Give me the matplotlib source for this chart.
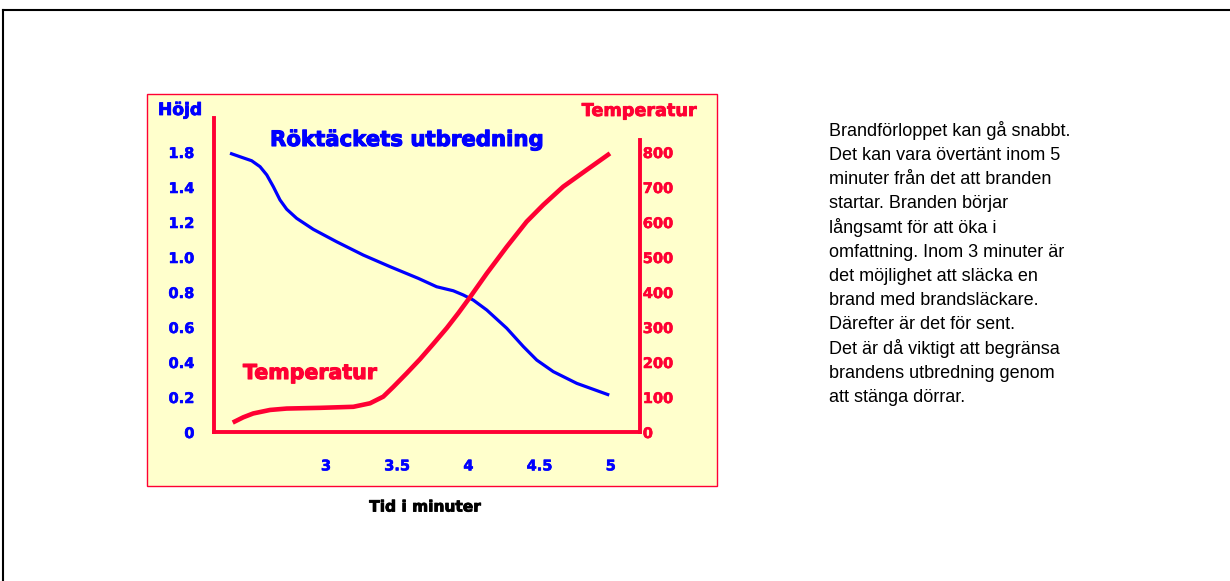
import matplotlib
matplotlib.use("Agg")
import matplotlib.pyplot as plt
import matplotlib.patheffects as pe
from matplotlib.patches import Rectangle
from matplotlib.lines import Line2D

# smoke layer height (m)
tid_rok = [2.326, 2.396, 2.478, 2.537, 2.584, 2.630, 2.677, 2.724, 2.794, 2.911,
           3.075, 3.262, 3.449, 3.648, 3.777, 3.894, 3.964, 4.034, 4.129, 4.269,
           4.386, 4.480, 4.596, 4.761, 4.989]
hojd = [1.593, 1.573, 1.550, 1.516, 1.469, 1.402, 1.326, 1.273, 1.221, 1.158,
        1.087, 1.011, 0.945, 0.878, 0.830, 0.807, 0.783, 0.754, 0.697, 0.593,
        0.488, 0.411, 0.345, 0.278, 0.211]

# temperature (C)
tid_temp = [2.345, 2.419, 2.489, 2.607, 2.724, 2.958, 3.192, 3.309, 3.402, 3.473,
            3.567, 3.660, 3.754, 3.848, 3.930, 4.011, 4.129, 4.269, 4.409, 4.526,
            4.666, 4.831, 4.994]
temp = [27, 42, 53, 63, 67, 69, 72, 82, 101, 129, 168, 208, 252, 297, 340, 385,
        453, 529, 601, 649, 701, 749, 796]

x_ticks = [3, 3.5, 4, 4.5, 5]
x_labels = ["3", "3.5", "4", "4.5", "5"]
y_ticks = [0, 0.2, 0.4, 0.6, 0.8, 1.0, 1.2, 1.4, 1.6]
y_labels = ["0", "0.2", "0.4", "0.6", "0.8", "1.0", "1.2", "1.4", "1.8"]
t_ticks = [0, 100, 200, 300, 400, 500, 600, 700, 800]

text_rader = ["Brandförloppet kan gå snabbt.",
              "Det kan vara övertänt inom 5",
              "minuter från det att branden",
              "startar. Branden börjar",
              "långsamt för att öka i",
              "omfattning. Inom 3 minuter är",
              "det möjlighet att släcka en",
              "brand med brandsläckare.",
              "Därefter är det för sent.",
              "Det är då viktigt att begränsa",
              "brandens utbredning genom",
              "att stänga dörrar."]

RED = "#ff0033"
BLUE = "#0000ff"
W, H = 1230, 581


def tjock(farg, lw=0.6):
    # fake a heavier (Arial Black like) weight
    return [pe.withStroke(linewidth=lw, foreground=farg)]


fig = plt.figure(figsize=(12.3, 5.81), dpi=100)

# outer frame
fig.add_artist(Line2D([3 / W, 3 / W], [0, 1 - 10 / H], color="black", lw=1.5))
fig.add_artist(Line2D([3 / W, 1], [1 - 10 / H, 1 - 10 / H], color="black", lw=1.5))

# yellow panel
fig.add_artist(Rectangle((147 / W, 1 - 486 / H), 570 / W, 392 / H,
                         facecolor="#ffffcc", edgecolor=RED, lw=1, zorder=0))

ax = fig.add_axes([214 / W, 1 - 432 / H, 426 / W, 314 / H])
ax.patch.set_visible(False)
ax2 = ax.twinx()

ax.plot(tid_rok, hojd, color=BLUE, lw=2.3, solid_capstyle="butt",
        solid_joinstyle="round")
ax2.plot(tid_temp, temp, color=RED, lw=3.3, solid_capstyle="butt",
         solid_joinstyle="round")

ax.set_xlim(2.2135, 5.205)
ax.set_ylim(0, 314 / 35 * 0.2)
ax2.set_ylim(0, 314 / 35 * 100)

for s in ["top", "right"]:
    ax.spines[s].set_visible(False)
for s in ["top", "left", "bottom"]:
    ax2.spines[s].set_visible(False)
for s in ["left", "bottom"]:
    ax.spines[s].set_color(RED)
    ax.spines[s].set_linewidth(2.8)
ax2.spines["right"].set_color(RED)
ax2.spines["right"].set_linewidth(2.8)
ax2.spines["right"].set_bounds(0, 834)

tf = dict(fontsize=10.5, fontweight="bold", family="DejaVu Sans")
ax.set_xticks(x_ticks)
ax.set_xticklabels(x_labels, color=BLUE, path_effects=tjock(BLUE, 0.4), **tf)
ax.set_yticks(y_ticks)
ax.set_yticklabels(y_labels, color=BLUE, path_effects=tjock(BLUE, 0.4), **tf)
ax2.set_yticks(t_ticks)
ax2.set_yticklabels([str(t) for t in t_ticks], color=RED,
                    path_effects=tjock(RED, 0.4), **tf)
ax.tick_params(axis="x", length=0, pad=19)
ax.tick_params(axis="y", length=0, pad=14)
ax2.tick_params(axis="y", length=0, pad=2)

fig.text(158 / W, 1 - 110 / H, "Höjd", color=BLUE, fontsize=12.3,
         fontweight="bold", va="center", ha="left", path_effects=tjock(BLUE))
fig.text(697 / W, 1 - 111 / H, "Temperatur", color=RED, fontsize=12.7,
         fontweight="bold", va="center", ha="right", path_effects=tjock(RED))
fig.text(270 / W, 1 - 140 / H, "Röktäckets utbredning", color=BLUE, fontsize=15.3,
         fontweight="bold", va="center", ha="left", path_effects=tjock(BLUE, 0.8))
fig.text(243 / W, 1 - 373 / H, "Temperatur", color=RED, fontsize=14.8,
         fontweight="bold", va="center", ha="left", path_effects=tjock(RED, 0.8))
fig.text(425 / W, 1 - 507 / H, "Tid i minuter", color="black", fontsize=11.1,
         fontweight="bold", va="center", ha="center", path_effects=tjock("black"))

for i, rad in enumerate(text_rader):
    fig.text(829 / W, 1 - (131 + i * 24.2) / H, rad, color="black", fontsize=13,
             family="Liberation Sans", va="center", ha="left")

fig.savefig("out.png", dpi=100)
